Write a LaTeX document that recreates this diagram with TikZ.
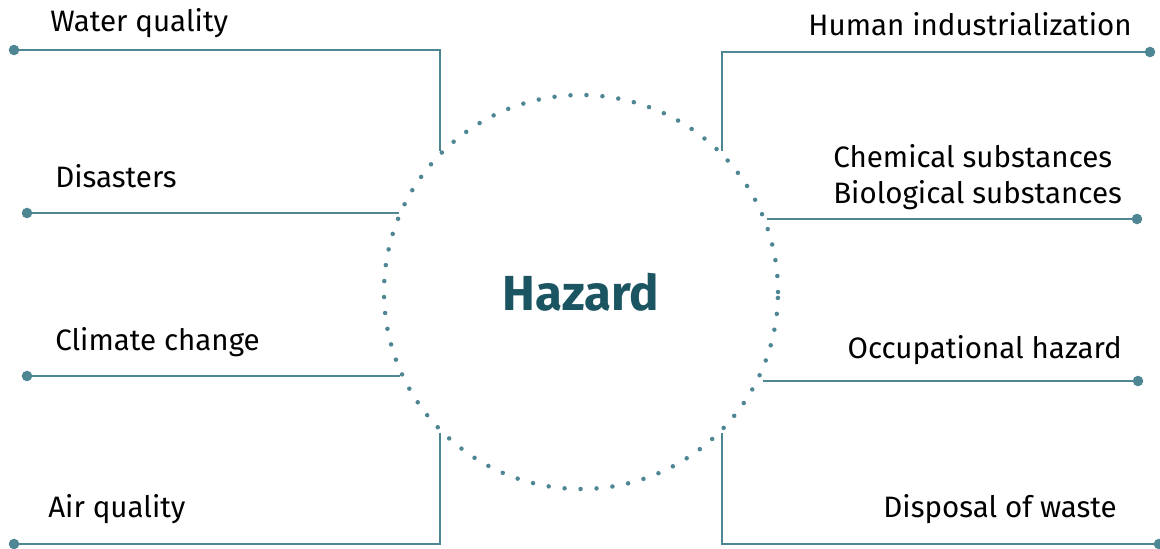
\documentclass[tikz,border=0pt]{standalone}
\usepackage{fontspec}
\setmainfont{Fira Sans}
\usetikzlibrary{positioning,calc}
\definecolor{tealline}{HTML}{4E8694}
\definecolor{tealdark}{HTML}{1B5562}
\tikzset{
    % Define style for the branch lines
    branch/.style={
           draw=tealline,
           line width=1.4pt},
    % Define style for the end dots
    enddot/.style={
           circle,
           fill=tealline,
           inner sep=0pt,
           minimum size=7.5pt},
    % Define style for the labels
    lbl/.style={
           inner sep=0pt,
           font=\fontsize{21}{25}\selectfont}
}

\begin{document}
\begin{tikzpicture}[x=0.025cm, y=-0.025cm]
	\useasboundingbox (0,0) rectangle (1160,548);

	% Centre circle
	\node[circle, minimum size=394*0.025cm, inner sep=0pt,
	      draw=tealline, line width=3.2pt, dash pattern=on 0pt off 16*0.025cm, line cap=round,
	      font=\bfseries\fontsize{35}{40}\selectfont, text=tealdark](hub) at (581,292){Hazard};

	% Left side
	\node[lbl, anchor=base west](wq) at (50,31){Water quality};
	\node[lbl, anchor=base west](dis) at (55,187){Disasters};
	\node[lbl, anchor=base west](cc) at (55,350){Climate change};
	\node[lbl, anchor=base west](aq) at (48,517){Air quality};

	\node[enddot](wq-dot) at (14,50){};
	\node[enddot](dis-dot) at (27,213){};
	\node[enddot](cc-dot) at (27,376){};
	\node[enddot](aq-dot) at (14,544){};

	\draw[branch] (wq-dot.center) -| (hub.135);
	\draw[branch] (dis-dot.center) -- (hub.156 |- dis-dot);
	\draw[branch] (cc-dot.center) -- (hub.205 |- cc-dot);
	\draw[branch] (aq-dot.center) -| (hub.225);

	% Right side
	\node[lbl, anchor=base east](hi) at (1132,35){Human industrialization};
	\node[lbl, anchor=base west](chem) at (833,167){Chemical substances};
	\node[lbl, anchor=base west](bio) at (833,203){Biological substances};
	\node[lbl, anchor=base east](occ) at (1122,358){Occupational hazard};
	\node[lbl, anchor=base east](dow) at (1117,517){Disposal of waste};

	\node[enddot](hi-dot) at (1150,52){};
	\node[enddot](bio-dot) at (1137,219){};
	\node[enddot](occ-dot) at (1138,381){};
	\node[enddot](dow-dot) at (1159,544){};

	\draw[branch] (hi-dot.center) -| (hub.45);
	\draw[branch] (bio-dot.center) -- (hub.21 |- bio-dot);
	\draw[branch] (occ-dot.center) -- (hub.-24 |- occ-dot);
	\draw[branch] (dow-dot.center) -| (hub.-45);

\end{tikzpicture}
\end{document}
